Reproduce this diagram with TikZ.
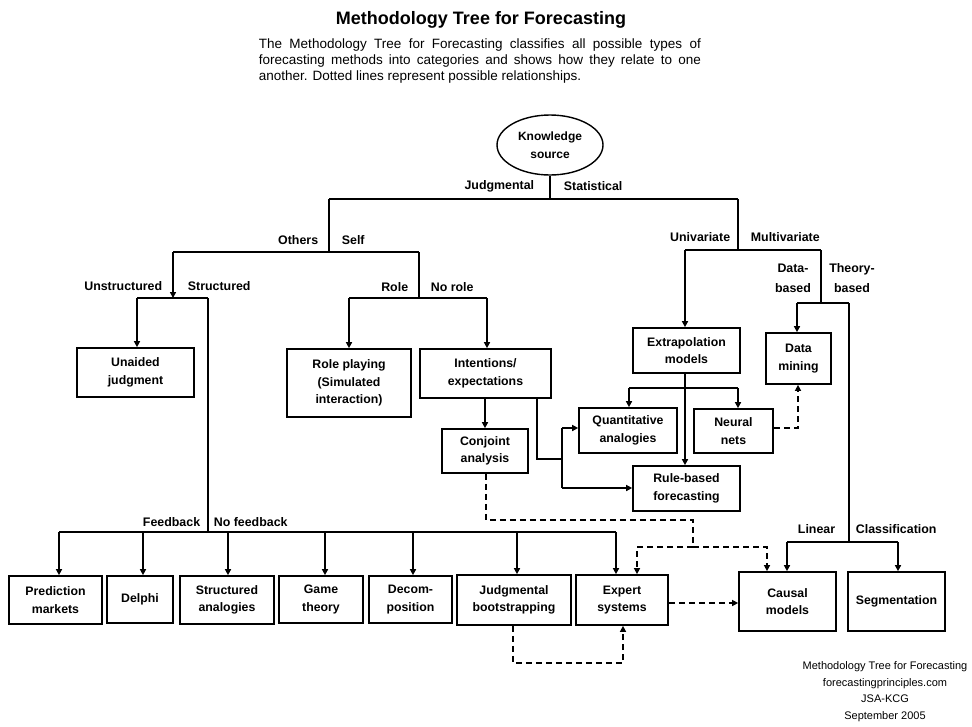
\documentclass[tikz,border=0pt]{standalone}
\usepackage{fontspec}
\setmainfont{Liberation Sans}
\usetikzlibrary{arrows.meta,shapes.geometric,calc}
\begin{document}
\begin{tikzpicture}[x=1pt,y=-1pt,
  line width=1.7pt,
  box/.style={draw, line width=1.7pt, inner sep=0pt, align=center, font=\bfseries\fontsize{12.3}{17.5}\selectfont},
  lbl/.style={inner sep=0pt, font=\bfseries\fontsize{12.4}{14}\selectfont},
  arr/.style={-{Triangle[length=6pt,width=6pt]}},
  dsh/.style={dash pattern=on 6pt off 4pt, line width=1.4pt},
]
\useasboundingbox[fill=white] (0,0) rectangle (972,726);

% title and description
\node[anchor=base, inner sep=0pt, font=\bfseries\fontsize{18}{20}\selectfont] (title) at (481,24) {Methodology Tree for Forecasting};
\node[anchor=north west, inner sep=0pt, text width=442pt, align=justify, font=\fontsize{13.5}{16}\selectfont] (desc) at (258,38)
 {The Methodology Tree for Forecasting classifies all possible types of\linebreak forecasting methods into categories and shows how they relate to one\linebreak another. Dotted lines represent possible relationships.};

% root
\node[draw, ellipse, line width=1.4pt, minimum width=106pt, minimum height=60pt, inner sep=0pt, align=center, font=\bfseries\fontsize{12}{18}\selectfont] (ks) at (550,145) {Knowledge\\source};

% boxes
\node[box, minimum width=117pt, minimum height=49pt] (unaided) at (135.5,372.5) {Unaided\\judgment};
\node[box, minimum width=124pt, minimum height=68pt] (role) at (349,383) {Role playing\\(Simulated\\interaction)};
\node[box, minimum width=131pt, minimum height=49pt] (intent) at (485.5,373.5) {Intentions/\\expectations};
\node[box, minimum width=86pt, minimum height=44pt] (conj) at (485,451) {Conjoint\\analysis};
\node[box, minimum width=107pt, minimum height=45pt] (extrap) at (686.5,350.5) {Extrapolation\\models};
\node[box, minimum width=65pt, minimum height=51pt] (dmine) at (798.5,358.5) {Data\\mining};
\node[box, minimum width=98pt, minimum height=45pt] (quant) at (628,430.5) {Quantitative\\analogies};
\node[box, minimum width=79pt, minimum height=44pt] (neural) at (733.5,431) {Neural\\nets};
\node[box, minimum width=107pt, minimum height=45pt] (rule) at (686.5,488.5) {Rule-based\\forecasting};
\node[box, minimum width=93pt, minimum height=48pt] (pred) at (55.5,600) {Prediction\\markets};
\node[box, minimum width=66pt, minimum height=47pt] (delphi) at (140,599.5) {Delphi};
\node[box, minimum width=94pt, minimum height=48pt] (sanal) at (227,600) {Structured\\analogies};
\node[box, minimum width=84pt, minimum height=47pt] (game) at (321,599.5) {Game\\theory};
\node[box, minimum width=83pt, minimum height=47pt] (decomp) at (410.5,599.5) {Decom-\\position};
\node[box, minimum width=114pt, minimum height=50pt] (jboot) at (514,600) {Judgmental\\bootstrapping};
\node[box, minimum width=92pt, minimum height=50pt] (expert) at (622,600) {Expert\\systems};
\node[box, minimum width=97pt, minimum height=59pt] (causal) at (787.5,601.5) {Causal\\models};
\node[box, minimum width=97pt, minimum height=59pt] (segm) at (896.5,601.5) {Segmentation};

% labels
\node[lbl, anchor=east] (l-judg) at (535,186) {Judgmental};
\node[lbl, anchor=west] (l-stat) at (563,186) {Statistical};
\node[lbl, anchor=east] (l-oth) at (319,240) {Others};
\node[lbl, anchor=west] (l-self) at (341,240) {Self};
\node[lbl, anchor=east] (l-unst) at (163,286) {Unstructured};
\node[lbl, anchor=west] (l-str) at (187,286) {Structured};
\node[lbl, anchor=east] (l-role) at (409,287) {Role};
\node[lbl, anchor=west] (l-norole) at (430,287) {No role};
\node[lbl, anchor=east] (l-fb) at (201,522) {Feedback};
\node[lbl, anchor=west] (l-nofb) at (213,522) {No feedback};
\node[lbl, anchor=east] (l-uni) at (731,237) {Univariate};
\node[lbl, anchor=west] (l-multi) at (750,237) {Multivariate};
\node[lbl, align=center, font=\bfseries\fontsize{12.4}{20}\selectfont] (l-data) at (793,278) {Data-\\based};
\node[lbl, align=center, font=\bfseries\fontsize{12.4}{20}\selectfont] (l-theory) at (852,278) {Theory-\\based};
\node[lbl, anchor=east] (l-lin) at (836,529) {Linear};
\node[lbl, anchor=west] (l-class) at (855,529) {Classification};

% footer
\node[anchor=north, inner sep=0pt, align=center, font=\fontsize{11}{16.5}\selectfont] (foot) at (885,661)
 {Methodology Tree for Forecasting\\forecastingprinciples.com\\JSA-KCG\\September 2005};

% --- solid connectors ---
\coordinate (kb) at (550,199);
\coordinate (jl) at (329,199);
\coordinate (sr) at (738,199);
\draw (ks.south) -- (kb);
\draw (jl) -- (sr);
% judgmental
\coordinate (jd) at (329,252);
\coordinate (ol) at (173,252);
\coordinate (sl) at (419,252);
\draw (jl) -- (jd);
\draw (ol) -- (sl);
\coordinate (ud) at (173,298);
\draw[arr] (ol) -- (ud);
\coordinate (ul) at (137,298);
\coordinate (st) at (208,298);
\draw (ul) -- (st);
\draw[arr] (ul) -- (ul |- unaided.north);
\coordinate (fb) at (208,532);
\draw (st) -- (fb);
\coordinate (bl) at (59,532);
\coordinate (br) at (616,532);
\draw (bl) -- (br);
\foreach \n/\x in {pred/59, delphi/143, sanal/228, game/325, decomp/413, jboot/517, expert/616}{
  \coordinate (t\n) at (\x,532);
  \draw[arr] (t\n) -- (t\n |- \n.north);
}
% self
\coordinate (sd) at (419,298);
\draw (sl) -- (sd);
\coordinate (rl) at (349,298);
\coordinate (rr) at (487,298);
\draw (rl) -- (rr);
\draw[arr] (rl) -- (rl |- role.north);
\draw[arr] (rr) -- (rr |- intent.north);
\draw[arr] (intent.south -| conj.north) -- (conj.north);
\coordinate (i1) at (537,459);
\coordinate (i2) at (562,459);
\coordinate (i3) at (562,428);
\coordinate (i4) at (562,488);
\draw (i1 |- intent.south) -- (i1) -- (i2);
\draw (i3) -- (i4);
\draw[arr] (i3) -- (quant.west |- i3);
\draw[arr] (i4) -- (rule.west |- i4);
% statistical
\coordinate (sd2) at (738,250);
\coordinate (ul2) at (685,250);
\coordinate (mr) at (821,250);
\draw (sr) -- (sd2);
\draw (ul2) -- (mr);
\draw[arr] (ul2) -- (ul2 |- extrap.north);
\coordinate (ex) at (685,388);
\draw[arr] (ex |- extrap.south) -- (ex |- rule.north);
\coordinate (qa) at (629,388);
\coordinate (nn) at (738,388);
\draw (qa) -- (nn);
\draw[arr] (qa) -- (qa |- quant.north);
\draw[arr] (nn) -- (nn |- neural.north);
\coordinate (md) at (821,303);
\draw (mr) -- (md);
\coordinate (dl) at (797,303);
\coordinate (tr) at (849,303);
\draw (dl) -- (tr);
\draw[arr] (dl) -- (dl |- dmine.north);
\coordinate (td) at (849,542);
\draw (tr) -- (td);
\coordinate (cl) at (787,542);
\coordinate (cr) at (898,542);
\draw (cl) -- (cr);
\draw[arr] (cl) -- (cl |- causal.north);
\draw[arr] (cr) -- (cr |- segm.north);

% --- dashed connectors ---
\coordinate (n1) at (798,428);
\draw[dsh, arr] (neural.east |- n1) -- (n1) -- (n1 |- dmine.south);
\coordinate (c1) at (486,520);
\coordinate (c2) at (693,520);
\coordinate (c3) at (693,547);
\coordinate (c4) at (637,547);
\coordinate (c5) at (767,547);
\draw[dsh] (c1 |- conj.south) -- (c1) -- (c2) -- (c3);
\draw[dsh, arr] (c3) -- (c4) -- (c4 |- expert.north);
\draw[dsh, arr] (c3) -- (c5) -- (c5 |- causal.north);
\coordinate (e1) at (668,603);
\draw[dsh, arr] (expert.east |- e1) -- (causal.west |- e1);
\coordinate (j1) at (513,663);
\coordinate (j2) at (623,663);
\draw[dsh, arr] (j1 |- jboot.south) -- (j1) -- (j2) -- (j2 |- expert.south);
\end{tikzpicture}
\end{document}
